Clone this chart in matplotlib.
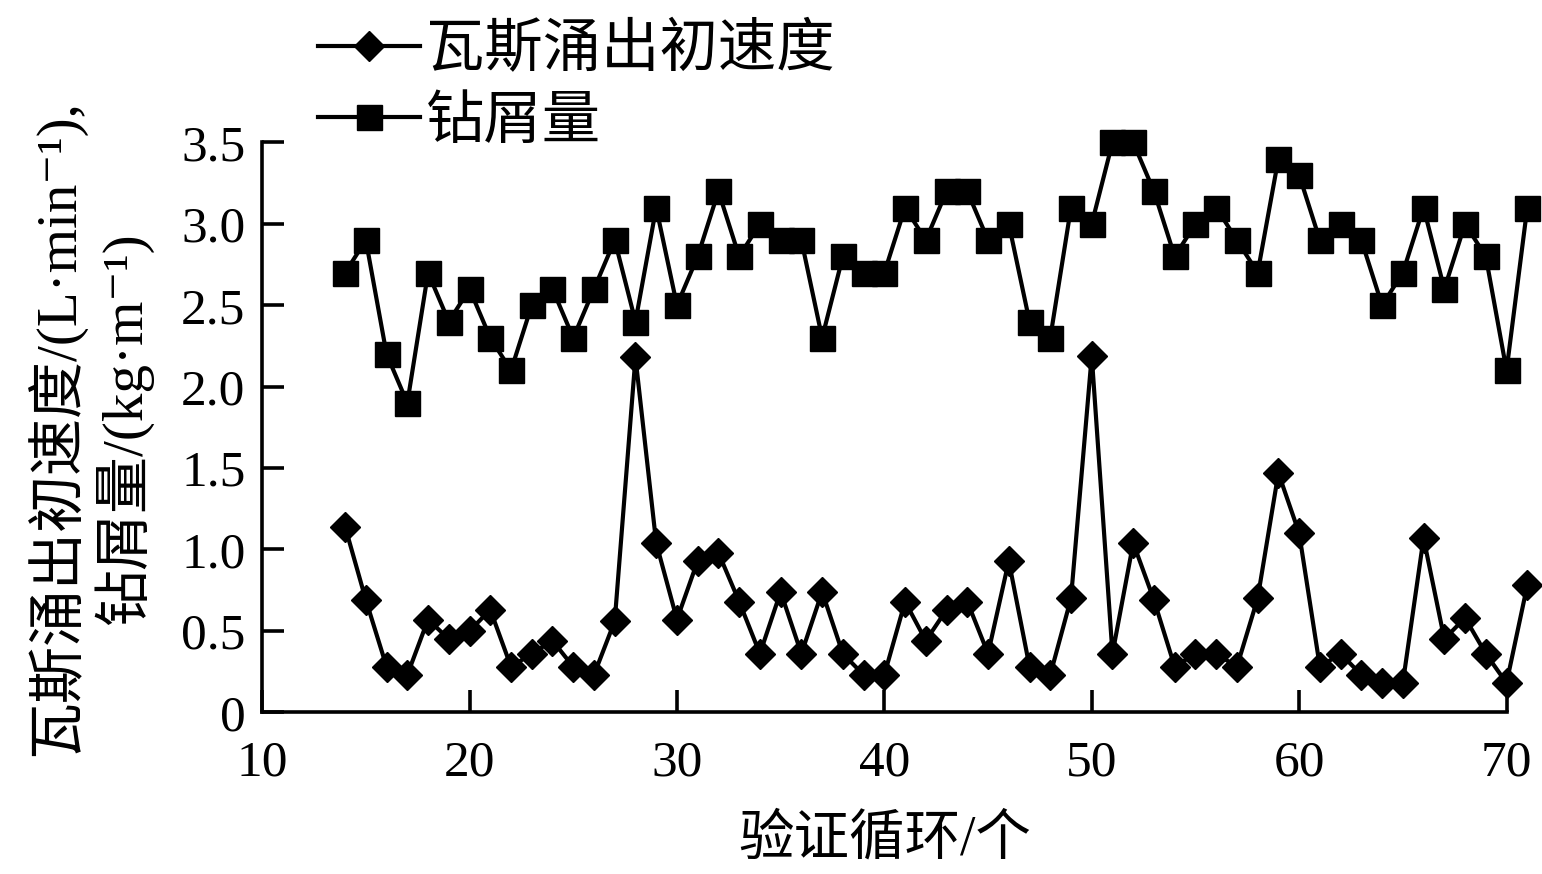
import matplotlib
matplotlib.use("Agg")
import matplotlib.pyplot as plt

plt.rcParams['font.family'] = ['Liberation Serif', 'DejaVu Sans', 'Noto Sans CJK SC']

# verification cycles
cycles = list(range(14, 72))

# gas emission initial velocity, L/min
gas_speed = [1.14, 0.69, 0.28, 0.23, 0.57, 0.45, 0.50, 0.63, 0.28, 0.36,
             0.44, 0.28, 0.23, 0.56, 2.18, 1.04, 0.57, 0.93, 0.98, 0.68,
             0.36, 0.74, 0.36, 0.74, 0.36, 0.23, 0.23, 0.68, 0.44, 0.63,
             0.68, 0.36, 0.93, 0.28, 0.23, 0.70, 2.19, 0.36, 1.04, 0.69,
             0.28, 0.36, 0.36, 0.28, 0.70, 1.47, 1.10, 0.28, 0.36, 0.23,
             0.18, 0.18, 1.07, 0.45, 0.58, 0.36, 0.18, 0.78]

# drill cuttings, kg/m
cuttings = [2.7, 2.9, 2.2, 1.9, 2.7, 2.4, 2.6, 2.3, 2.1, 2.5,
            2.6, 2.3, 2.6, 2.9, 2.4, 3.1, 2.5, 2.8, 3.2, 2.8,
            3.0, 2.9, 2.9, 2.3, 2.8, 2.7, 2.7, 3.1, 2.9, 3.2,
            3.2, 2.9, 3.0, 2.4, 2.3, 3.1, 3.0, 3.5, 3.5, 3.2,
            2.8, 3.0, 3.1, 2.9, 2.7, 3.4, 3.3, 2.9, 3.0, 2.9,
            2.5, 2.7, 3.1, 2.6, 3.0, 2.8, 2.1, 3.1]

x_ticks = [10, 20, 30, 40, 50, 60, 70]
y_ticks = [0, 0.5, 1.0, 1.5, 2.0, 2.5, 3.0, 3.5]
y_tick_labels = ['0', '0.5', '1.0', '1.5', '2.0', '2.5', '3.0', '3.5']

fig = plt.figure(figsize=(15.42, 8.74), dpi=100)
ax = fig.add_axes([0.170, 0.185, 0.807, 0.652])

ax.plot(cycles, gas_speed, color='black', lw=3.0, marker='D', markersize=15.5,
        label='瓦斯涌出初速度', clip_on=False, zorder=3)
ax.plot(cycles, cuttings, color='black', lw=3.0, marker='s', markersize=18,
        label='钻屑量', clip_on=False, zorder=3)

ax.set_xlim(10, 70)
ax.set_ylim(0, 3.5)
ax.set_xticks(x_ticks)
ax.set_yticks(y_ticks)
ax.set_yticklabels(y_tick_labels)

for side in ['top', 'right']:
    ax.spines[side].set_visible(False)
for side in ['left', 'bottom']:
    ax.spines[side].set_linewidth(2.6)

ax.tick_params(direction='in', length=16, width=2.6, labelsize=37)
ax.tick_params(axis='x', pad=20)
ax.tick_params(axis='y', pad=12)

ax.set_xlabel('验证循环/个', fontsize=40, labelpad=20)
ax.set_ylabel('瓦斯涌出初速度/(L·min⁻¹),\n钻屑量/(kg·m⁻¹)', fontsize=41,
              labelpad=20, linespacing=1.15)

ax.legend(loc='upper left', bbox_to_anchor=(0.191, 1.0), bbox_transform=fig.transFigure,
          frameon=False, fontsize=42, handlelength=1.75, handletextpad=0.1,
          labelspacing=0.3, borderaxespad=0.0)

fig.savefig('out.png', dpi=100)
